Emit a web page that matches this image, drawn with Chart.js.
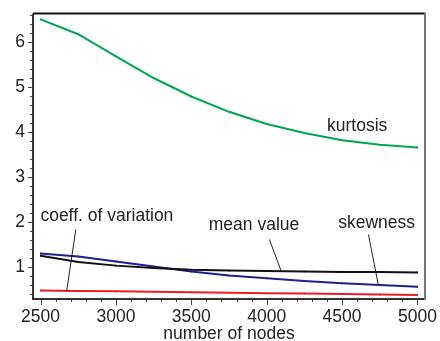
<!DOCTYPE html>
<html>
<head>
<meta charset="utf-8">
<script src="https://cdn.jsdelivr.net/npm/chart.js@4.4.1/dist/chart.umd.min.js"></script>
<style>
  html, body { margin: 0; padding: 0; background: #fff; }
  canvas { display: block; }
</style>
</head>
<body>
<canvas id="statsChart" width="440" height="341"></canvas>
<script>
// Network size on the x axis, one sample every 250 nodes
const nodes = [2500, 2750, 3000, 3250, 3500, 3750, 4000, 4250, 4500, 4750, 5000];

// Statistics of the degree distribution
const kurtosis = [6.50, 6.17, 5.68, 5.20, 4.79, 4.45, 4.18, 3.98, 3.82, 3.72, 3.66];
const meanValue = [1.26, 1.12, 1.04, 0.99, 0.95, 0.93, 0.92, 0.91, 0.90, 0.90, 0.89];
const skewness = [1.31, 1.24, 1.13, 1.02, 0.91, 0.82, 0.76, 0.70, 0.65, 0.61, 0.57];
const coeffVariation = [0.49, 0.48, 0.47, 0.46, 0.45, 0.44, 0.43, 0.42, 0.41, 0.40, 0.39];

// Tick values
const xMajorTicks = [2500, 3000, 3500, 4000, 4500, 5000];
const yMajorTicks = [1, 2, 3, 4, 5, 6];

// Curve labels, placed in data units; leader runs from `from` to `to`
const curveLabels = [
  { text: 'kurtosis', x: 4600, y: 4.13 },
  { text: 'coeff. of variation', x: 2940, y: 2.13, from: [2734, 1.84], to: [2673, 0.47] },
  { text: 'mean value', x: 3916, y: 1.94, from: [4018, 1.62], to: [4095, 0.93] },
  { text: 'skewness', x: 4729, y: 1.98, from: [4675, 1.73], to: [4741, 0.60] },
];

const FONT = "'Liberation Sans', Arial, Helvetica, sans-serif";
const FONT_SIZE = 17.5;
Chart.defaults.font.family = FONT;
Chart.defaults.font.size = FONT_SIZE;
Chart.defaults.color = '#222';

const toPoints = (ys) => ys.map((y, i) => ({ x: nodes[i], y }));

const series = (label, data, color) => ({
  label,
  data: toPoints(data),
  borderColor: color,
  backgroundColor: color,
  borderWidth: 2,
  tension: 0,
  pointStyle: 'line',
  rotation: 90,
  pointRadius: 1,
  pointBorderWidth: 1,
});

// Frame, minor/major tick marks and curve labels
const decorations = {
  id: 'decorations',
  afterDraw(chart) {
    const { ctx, chartArea: a, scales: { x, y } } = chart;
    ctx.save();

    // tick marks
    ctx.strokeStyle = '#444';
    ctx.lineWidth = 1;
    ctx.beginPath();
    for (let v = 2500; v <= 5000; v += 100) {
      const px = Math.round(x.getPixelForValue(v)) + 0.5;
      const len = v % 500 === 0 ? 6 : 3;
      ctx.moveTo(px, a.bottom);
      ctx.lineTo(px, a.bottom + len);
    }
    for (let i = 2; i <= 33; i++) {
      const v = i / 5;
      const py = Math.round(y.getPixelForValue(v)) + 0.5;
      const len = i % 5 === 0 ? 5 : 3;
      ctx.moveTo(a.left, py);
      ctx.lineTo(a.left - len, py);
    }
    ctx.stroke();

    // frame
    ctx.lineWidth = 2;
    ctx.strokeStyle = '#111';
    ctx.beginPath();
    ctx.moveTo(a.left, a.top);
    ctx.lineTo(a.right, a.top);
    ctx.stroke();
    ctx.strokeStyle = '#333';
    ctx.beginPath();
    ctx.moveTo(a.left, a.top);
    ctx.lineTo(a.left, a.bottom);
    ctx.lineTo(a.right, a.bottom);
    ctx.stroke();
    ctx.strokeStyle = '#777';
    ctx.beginPath();
    ctx.moveTo(a.right, a.top - 1);
    ctx.lineTo(a.right, a.bottom + 1);
    ctx.stroke();

    // curve labels with leader lines
    ctx.font = `${FONT_SIZE}px ${FONT}`;
    ctx.fillStyle = '#222';
    ctx.textAlign = 'center';
    ctx.textBaseline = 'middle';
    ctx.strokeStyle = '#222';
    ctx.lineWidth = 1;
    curveLabels.forEach((l) => {
      ctx.fillText(l.text, x.getPixelForValue(l.x), y.getPixelForValue(l.y));
      if (l.from) {
        ctx.beginPath();
        ctx.moveTo(x.getPixelForValue(l.from[0]), y.getPixelForValue(l.from[1]));
        ctx.lineTo(x.getPixelForValue(l.to[0]), y.getPixelForValue(l.to[1]));
        ctx.stroke();
      }
    });
    ctx.restore();
  },
};

new Chart(document.getElementById('statsChart').getContext('2d'), {
  type: 'line',
  data: {
    datasets: [
      series('kurtosis', kurtosis, '#00a651'),
      series('mean value', meanValue, '#111111'),
      series('skewness', skewness, '#1f1f8f'),
      series('coeff. of variation', coeffVariation, '#ee1c25'),
    ],
  },
  options: {
    responsive: false,
    animation: false,
    layout: { padding: { top: 8, right: 15, left: 0, bottom: 0 } },
    plugins: { legend: { display: false }, tooltip: { enabled: false } },
    scales: {
      x: {
        type: 'linear',
        min: 2450,
        max: 5050,
        afterBuildTicks: (s) => { s.ticks = xMajorTicks.map((value) => ({ value })); },
        afterFit: (s) => { s.height = 42; },
        grid: { display: false, drawTicks: true, tickLength: 6 },
        border: { display: false },
        ticks: { padding: 2, maxRotation: 0, callback: (v) => String(v) },
        title: {
          display: true,
          text: 'number of nodes',
          font: { size: FONT_SIZE, lineHeight: 1 },
          padding: { top: 0, bottom: -2 },
        },
      },
      y: {
        type: 'linear',
        min: 0.3,
        max: 6.63,
        afterBuildTicks: (s) => { s.ticks = yMajorTicks.map((value) => ({ value })); },
        afterFit: (s) => { s.width = 33; },
        grid: { display: false, drawTicks: true, tickLength: 5 },
        border: { display: false },
        ticks: { padding: 3, callback: (v) => String(v) },
      },
    },
  },
  plugins: [decorations],
});
</script>
</body>
</html>
